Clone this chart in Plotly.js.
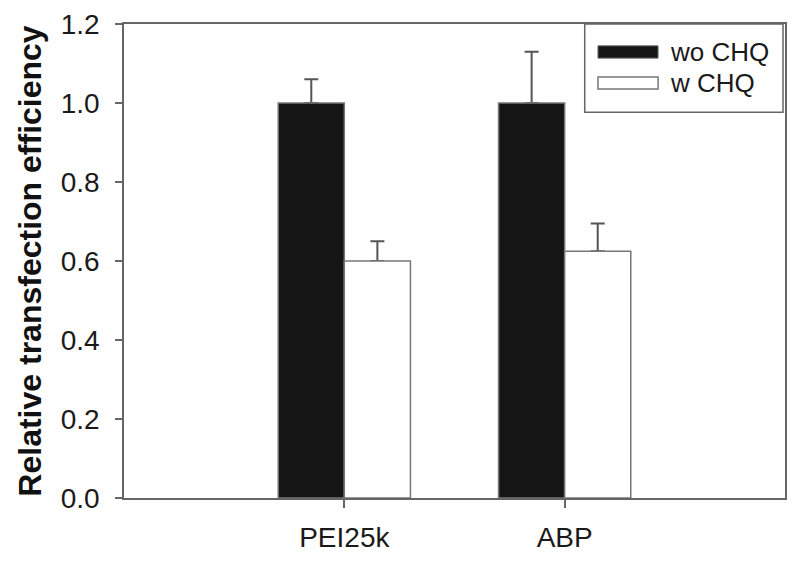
<!DOCTYPE html>
<html>
<head>
<meta charset="utf-8">
<script src="https://cdn.plot.ly/plotly-3.0.1.min.js"></script>
<style>
  body { margin: 0; background: #fff; }
  #graph { width: 800px; height: 561px; }
</style>
</head>
<body>
<div id="graph"></div>
<script>
var groups = ['PEI25k', 'ABP'];
var seriesNames = ['wo CHQ', 'w CHQ'];
var woValues = [1.0, 1.0];
var woErrors = [0.06, 0.13];
var wValues = [0.60, 0.625];
var wErrors = [0.05, 0.07];
var yTicks = [0, 0.2, 0.4, 0.6, 0.8, 1.0, 1.2];

var edge = '#666';

// error bars go on see-through copies drawn first, so the real bars
// hide the lower cap that plotly always draws
function errTrace(vals, errs, grp) {
    return {
        x: groups, y: vals, type: 'bar', offsetgroup: grp,
        marker: { color: 'rgba(0,0,0,0)', line: { width: 0 } },
        error_y: { type: 'data', symmetric: false, array: errs, arrayminus: [0, 0],
                   color: '#555', thickness: 2, width: 7 },
        hoverinfo: 'skip'
    };
}

var woBar = {
    x: groups,
    y: woValues,
    type: 'bar',
    name: seriesNames[0],
    offsetgroup: 'wo',
    marker: { color: '#151515', line: { color: '#777', width: 1.5 } }
};
var wBar = {
    x: groups,
    y: wValues,
    type: 'bar',
    name: seriesNames[1],
    offsetgroup: 'w',
    marker: { color: '#ffffff', line: { color: '#777', width: 1.5 } }
};

// hand made legend, wide flat swatches like the original
var legendShapes = [
    { type: 'rect', xref: 'paper', yref: 'paper', x0: 0.697, x1: 0.997, y0: 0.814, y1: 1.0,
      line: { color: edge, width: 1.5 }, fillcolor: '#fff' },
    { type: 'rect', xref: 'paper', yref: 'paper', x0: 0.717, x1: 0.808, y0: 0.928, y1: 0.954,
      line: { color: '#777', width: 1 }, fillcolor: '#151515' },
    { type: 'rect', xref: 'paper', yref: 'paper', x0: 0.717, x1: 0.808, y0: 0.863, y1: 0.888,
      line: { color: '#777', width: 1.5 }, fillcolor: '#fff' }
];
var legendText = [
    { xref: 'paper', yref: 'paper', x: 0.823, y: 0.941, xanchor: 'left', yanchor: 'middle',
      text: seriesNames[0], showarrow: false, font: { size: 26, color: '#1a1a1a' } },
    { xref: 'paper', yref: 'paper', x: 0.823, y: 0.876, xanchor: 'left', yanchor: 'middle',
      text: seriesNames[1], showarrow: false, font: { size: 26, color: '#1a1a1a' } }
];

var layout = {
    width: 800,
    height: 561,
    margin: { l: 124, r: 15, t: 24, b: 63 },
    paper_bgcolor: '#fff',
    plot_bgcolor: '#fff',
    font: { family: 'Liberation Sans, Arial, sans-serif', color: '#222' },
    showlegend: false,
    barmode: 'group',
    bargap: 0.4,
    bargroupgap: 0,
    xaxis: {
        type: 'category',
        range: [-1, 2],
        showline: true,
        linecolor: edge,
        linewidth: 1.5,
        mirror: true,
        ticks: 'outside',
        ticklen: 8,
        tickwidth: 1.5,
        tickcolor: edge,
        ticklabelstandoff: 6,
        tickfont: { size: 28, color: '#1a1a1a' },
        showgrid: false,
        zeroline: false
    },
    yaxis: {
        range: [0, 1.2],
        tickvals: yTicks,
        ticktext: yTicks.map(function (v) { return v.toFixed(1); }),
        showline: true,
        linecolor: edge,
        linewidth: 1.5,
        mirror: true,
        ticks: 'outside',
        ticklen: 7,
        tickwidth: 1.5,
        tickcolor: edge,
        ticklabelstandoff: 10,
        tickfont: { size: 28, color: '#1a1a1a' },
        showgrid: false,
        zeroline: false,
        title: {
            text: 'Relative transfection efficiency',
            font: { size: 32, color: '#111', weight: 'bold' },
            standoff: 10
        }
    },
    shapes: legendShapes,
    annotations: legendText
};

Plotly.newPlot('graph', [errTrace(woValues, woErrors, 'wo'), errTrace(wValues, wErrors, 'w'), woBar, wBar],
    layout, { displayModeBar: false });
</script>
</body>
</html>
